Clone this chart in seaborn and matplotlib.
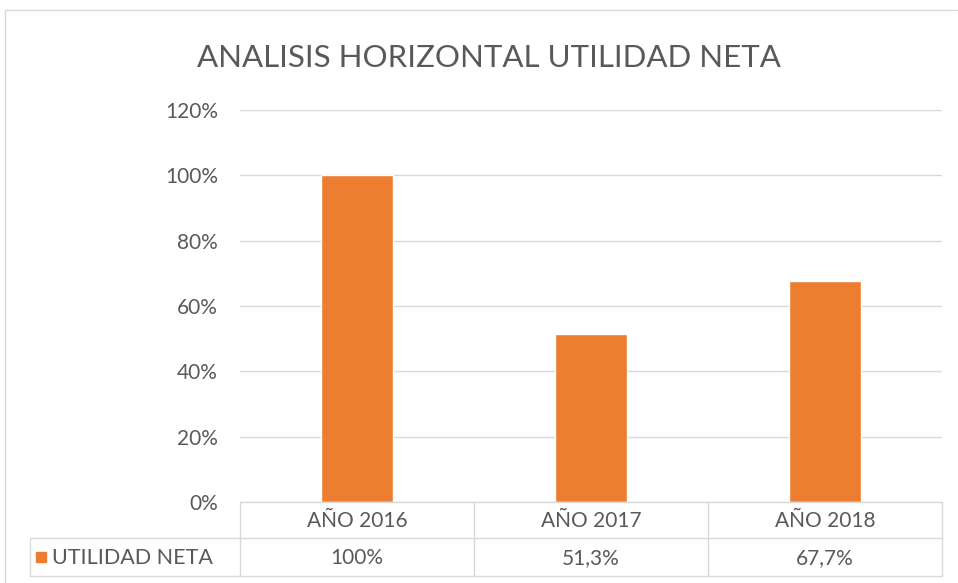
import matplotlib
matplotlib.use("Agg")
import matplotlib.pyplot as plt
import seaborn as sns
from matplotlib.lines import Line2D
from matplotlib.patches import Rectangle

# data
years = ["AÑO 2016", "AÑO 2017", "AÑO 2018"]
utilidad = [1.00, 0.513, 0.677]
series_name = "UTILIDAD NETA"
title = "ANALISIS HORIZONTAL UTILIDAD NETA"

W, H = 958, 583
ORANGE = "#ED7D31"
GRID = "#D9D9D9"
TXT = "#595959"

sns.set_theme(style="white")
plt.rcParams["font.family"] = ["Lato", "DejaVu Sans"]


def fx(x):
    return x / W


def fy(y):
    return 1 - y / H


fig = plt.figure(figsize=(W / 100, H / 100), dpi=100)

# plot area in pixel coords
x0, x1, ytop, ybot = 240, 942, 110, 502
ax = fig.add_axes([fx(x0), fy(ybot), fx(x1) - fx(x0), fy(ytop) - fy(ybot)])
sns.barplot(x=years, y=utilidad, color=ORANGE, width=0.31, saturation=1, ax=ax)
ax.set_xlim(-0.5, 2.5)
ax.set_ylim(0, 1.2)
ax.set_yticks([0, 0.2, 0.4, 0.6, 0.8, 1.0, 1.2])
ax.set_yticklabels([f"{int(round(t * 100))}%" for t in ax.get_yticks()],
                   color=TXT, fontsize=15)
ax.tick_params(axis="y", length=0, pad=16)
ax.set_xticks([])
ax.set_xlabel("")
ax.set_ylabel("")
ax.yaxis.grid(True, color=GRID, linewidth=1)
ax.set_axisbelow(True)
for s in ax.spines.values():
    s.set_visible(False)

# title
fig.text(fx(489), fy(58), title, ha="center", va="center", fontsize=22.5, color=TXT)

# data table
row1, row2, row3 = 502, 538, 576
tleft = 30
cols = [x0 + i * (x1 - x0) / 3 for i in range(4)]


def hline(y, xa, xb):
    fig.add_artist(Line2D([fx(xa), fx(xb)], [fy(y), fy(y)], color=GRID, lw=1))


def vline(x, ya, yb):
    fig.add_artist(Line2D([fx(x), fx(x)], [fy(ya), fy(yb)], color=GRID, lw=1))


hline(row1, x0, x1)
hline(row2, tleft, x1)
hline(row3, tleft, x1)
for c in cols:
    vline(c, row1, row3)
vline(tleft, row2, row3)

for i, yr in enumerate(years):
    cx = (cols[i] + cols[i + 1]) / 2
    fig.text(fx(cx), fy((row1 + row2) / 2 + 1), yr, ha="center", va="center",
             fontsize=15, color=TXT)
    v = utilidad[i] * 100
    lab = f"{v:.0f}%" if v == int(v) else f"{v:.1f}%".replace(".", ",")
    fig.text(fx(cx), fy((row2 + row3) / 2 + 1), lab, ha="center", va="center",
             fontsize=15, color=TXT)

fig.add_artist(Rectangle((fx(36), fy(562)), fx(10), 10 / H, color=ORANGE,
                         transform=fig.transFigure))
fig.text(fx(52), fy((row2 + row3) / 2 + 1), series_name, ha="left", va="center",
         fontsize=15.5, color=TXT)

# chart border
hline(10, 5, 957)
vline(5, 10, 583)

fig.savefig("out.png", dpi=100)
